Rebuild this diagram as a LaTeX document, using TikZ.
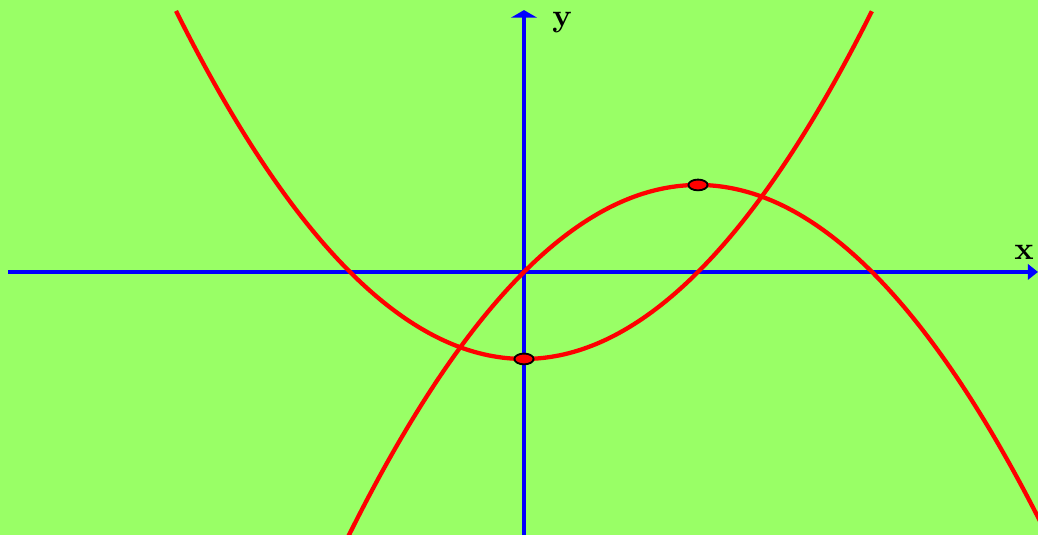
\documentclass[tikz,border=0pt]{standalone}
\usepackage{tikz}
\usetikzlibrary{arrows.meta}
\definecolor{bggreen}{HTML}{99FF66}
\begin{document}
\begin{tikzpicture}[x=1cm, y=1cm, font=\fontsize{10.5}{12}\selectfont\bfseries,
  axis/.style={blue, line width=1.3pt},
  curve/.style={red, line width=1.4pt, samples=150},
  vertex/.style={fill=red, draw=black, line width=0.6pt}]
  % background
  \fill[bggreen] (-6.023,-3.023) rectangle (5.908,3.126);
  \useasboundingbox (-6.023,-3.023) rectangle (5.908,3.126);
  \clip (-6.023,-3.023) rectangle (5.908,3.126);
  % axes
  \coordinate (xs) at (-5.93,0);
  \coordinate (xe) at (5.908,0);
  \coordinate (ys) at (0,-3.023);
  \coordinate (ye) at (0,3.01);
  \draw[axis, -{Triangle[length=3.3pt, width=5pt]}] (xs) -- (xe);
  \draw[axis, -{Triangle[length=2.5pt, width=8.5pt]}] (ys) -- (ye);
  \node (xlab) at (5.747,0.23) {x};
  \node (ylab) at (0.437,2.87) {y};
  % curves
  \draw[curve, domain=-4:4] plot (\x, {\x*\x/4-1});
  \draw[curve, domain=-2.05:6.05] plot (\x, {\x-\x*\x/4});
  % vertices
  \draw[vertex] (0,-1) ellipse (0.11 and 0.062);
  \draw[vertex] (2,1) ellipse (0.11 and 0.062);
\end{tikzpicture}
\end{document}
